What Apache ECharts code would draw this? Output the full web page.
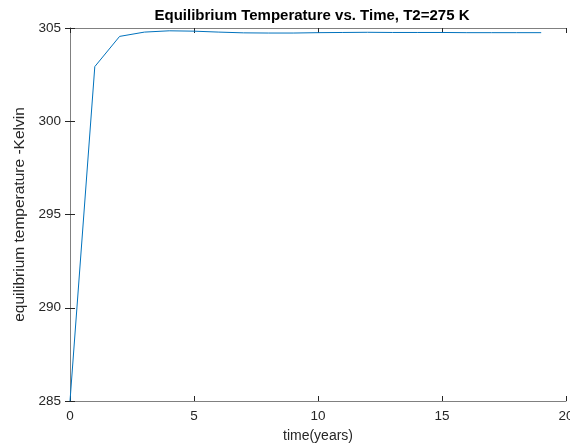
<!DOCTYPE html>
<html>
<head>
<meta charset="utf-8">
<script src="https://cdn.jsdelivr.net/npm/echarts@6/dist/echarts.min.js"></script>
<style>html,body{margin:0;padding:0;background:#fff}#c{width:570px;height:448px}</style>
</head>
<body>
<div id="c"></div>
<script>
const years = [0,1,2,3,4,5,6,7,8,9,10,11,12,13,14,15,16,17,18,19];
const temps = [285.00,302.93,304.55,304.78,304.85,304.83,304.78,304.74,304.73,304.73,304.75,304.76,304.77,304.76,304.76,304.76,304.75,304.75,304.75,304.75];
const titleText = 'Equilibrium Temperature vs. Time, T2=275 K';
const xLabel = 'time(years)';
const yLabel = 'equilibrium temperature -Kelvin';

const chart = echarts.init(document.getElementById('c'), null, {renderer:'canvas'});
const font = 'Liberation Sans, Arial, Helvetica, sans-serif';
const axisCol = '#808080';
const txtCol = '#262626';
const base = {
  axisLine:{show:true, lineStyle:{color:axisCol, width:1}},
  axisTick:{show:true, inside:true, length:5, lineStyle:{color:txtCol, width:1}},
  splitLine:{show:false},
  axisLabel:{color:txtCol, fontSize:13.5, fontFamily:font}
};
chart.setOption({
  animation:false,
  title:{text:titleText, left:307, textAlign:'center', top:3,
    textStyle:{fontSize:15, fontWeight:'bold', color:'#000', fontFamily:font}},
  grid:{left:70, right:4, top:28, bottom:47, containLabel:false, outerBoundsMode:'none'},
  xAxis:[
    Object.assign({}, base, {type:'value', min:0, max:20, interval:5, position:'bottom',
      name:xLabel, nameLocation:'middle', nameGap:28,
      nameTextStyle:{fontSize:14, color:txtCol, fontFamily:font},
      axisLabel:Object.assign({}, base.axisLabel, {margin:8})}),
    Object.assign({}, base, {type:'value', min:0, max:20, interval:5, position:'top',
      axisLabel:{show:false}})
  ],
  yAxis:[
    Object.assign({}, base, {type:'value', min:285, max:305, interval:5, position:'left',
      name:yLabel, nameLocation:'middle', nameGap:42,
      nameTextStyle:{fontSize:15.5, color:txtCol, fontFamily:font},
      axisLabel:Object.assign({}, base.axisLabel, {margin:9})}),
    Object.assign({}, base, {type:'value', min:285, max:305, interval:5, position:'right',
      axisLabel:{show:false}})
  ],
  series:[{
    type:'line', data:years.map((y,i)=>[y,temps[i]]), showSymbol:false,
    lineStyle:{color:'#0072BD', width:1}, itemStyle:{color:'#0072BD'}
  }]
});
</script>
</body>
</html>
